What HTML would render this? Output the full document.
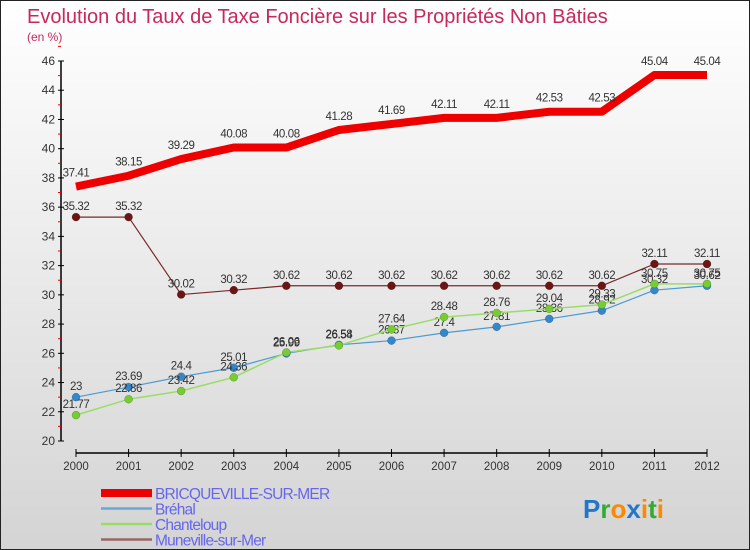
<!DOCTYPE html>
<html><head><meta charset="utf-8"><style>
body{margin:0}
#c{width:750px;height:550px;position:relative;box-sizing:border-box;border:1px solid #222;background:linear-gradient(#fff,#d4d4d4);font-family:"Liberation Sans",sans-serif;overflow:hidden}
svg text{font-family:"Liberation Sans",sans-serif}
</style></head><body>
<div id="c">
<svg id="s" width="750" height="550">
<text x="26" y="22" font-size="20" fill="#c8285a">Evolution du Taux de Taxe Foncière sur les Propriétés Non Bâties</text>
<text x="26" y="40" font-size="12" fill="#c8285a">(en %)</text>
</svg>
</div>
<script>
const years=['2000','2001','2002','2003','2004','2005','2006','2007','2008','2009','2010','2011','2012'];
const yTicks=[20,22,24,26,28,30,32,34,36,38,40,42,44,46];
const bricq=[37.41,38.15,39.29,40.08,40.08,41.28,41.69,42.11,42.11,42.53,42.53,45.04,45.04];
const brehal=[23,23.69,24.4,25.01,25.99,26.58,26.87,27.4,27.81,28.36,28.92,30.32,30.62];
const chant=[21.77,22.86,23.42,24.36,26.06,26.54,27.64,28.48,28.76,29.04,29.33,30.75,30.75];
const mune=[35.32,35.32,30.02,30.32,30.62,30.62,30.62,30.62,30.62,30.62,30.62,32.11,32.11];
const names=['BRICQUEVILLE-SUR-MER','Bréhal','Chanteloup','Muneville-sur-Mer'];
const NS='http://www.w3.org/2000/svg',s=document.getElementById('s');
const X=i=>75+i*(706-75)/(years.length-1);
const Y=v=>440-(v-20)*(380/26);
function el(t,a,p){const e=document.createElementNS(NS,t);for(const k in a)e.setAttribute(k,a[k]);(p||s).appendChild(e);return e;}
let ax=el('line',{x1:60,y1:60,x2:60,y2:440,stroke:'#000','stroke-width':1.5});


yTicks.forEach(v=>{
 el('line',{x1:57,x2:63,y1:Y(v),y2:Y(v),stroke:'#000'});
 el('line',{x1:57,x2:60,y1:Y(v+1),y2:Y(v+1),stroke:'#e00'});
 const t=el('text',{x:54,y:Y(v)+4,'font-size':12,'text-anchor':'end',fill:'#333'});t.textContent=v;
 
 
});
let xa=el('line',{x1:75,y1:452,x2:706,y2:452,stroke:'#000','stroke-width':1.5});


years.forEach((y,i)=>{
 el('line',{x1:X(i),x2:X(i),y1:448,y2:456,stroke:'#000'});
 const t=el('text',{x:X(i),y:469,'font-size':11.5,'text-anchor':'middle',fill:'#333'});t.textContent=y;
 
 
});
function series(d,col,w,r,dot,nm){
 const l=el('polyline',{points:d.map((v,i)=>X(i)+','+Y(v)).join(' '),fill:'none',stroke:col,'stroke-width':w,'stroke-linejoin':'round'});
 
 
 d.forEach((v,i)=>{
  if(r){const c=el('circle',{cx:X(i),cy:Y(v),r:r,fill:dot,stroke:'rgba(0,0,0,0.3)','stroke-width':0.5});
  
  }
  const t=el('text',{x:X(i),y:Y(v)-(w>5?10:7),'font-size':11.5,'letter-spacing':'-0.4','text-anchor':'middle',fill:'#333'});t.textContent=v;
  
  
 });
}
series(mune,'#7a2a2a',1.2,4,'#6b1515','muneville');
series(brehal,'#4a9ad4',1.2,4,'#3388cc','brehal');
series(chant,'#99dd66',1.5,4,'#77cc33','chanteloup');
series(bricq,'#ee0000',8,0,'','bricqueville');
const lc=['#ee0000','#6aa6d6','#99dd66','#996666'],lw=[8,2.5,2.5,2.5];
names.forEach((n,i)=>{
 const y=492+i*15.5;
 const l=el('line',{x1:100,x2:151,y1:y,y2:y,stroke:lc[i],'stroke-width':lw[i]});
 
 
 const t=el('text',{x:154,y:y+6,'font-size':15.5,fill:'#6666ee','letter-spacing':'-0.8'});t.textContent=n;
 
 
});
const logo=el('text',{x:582,y:517,'font-size':26,'font-weight':'bold'});


[['P','#2277cc'],['r','#33aa33'],['o','#ff8800'],['x','#2277cc'],['i','#ff8800'],['t','#33aa33'],['i','#ff8800']].forEach(([c,f])=>{el('tspan',{fill:f},logo).textContent=c;});
</script>
</body></html>
